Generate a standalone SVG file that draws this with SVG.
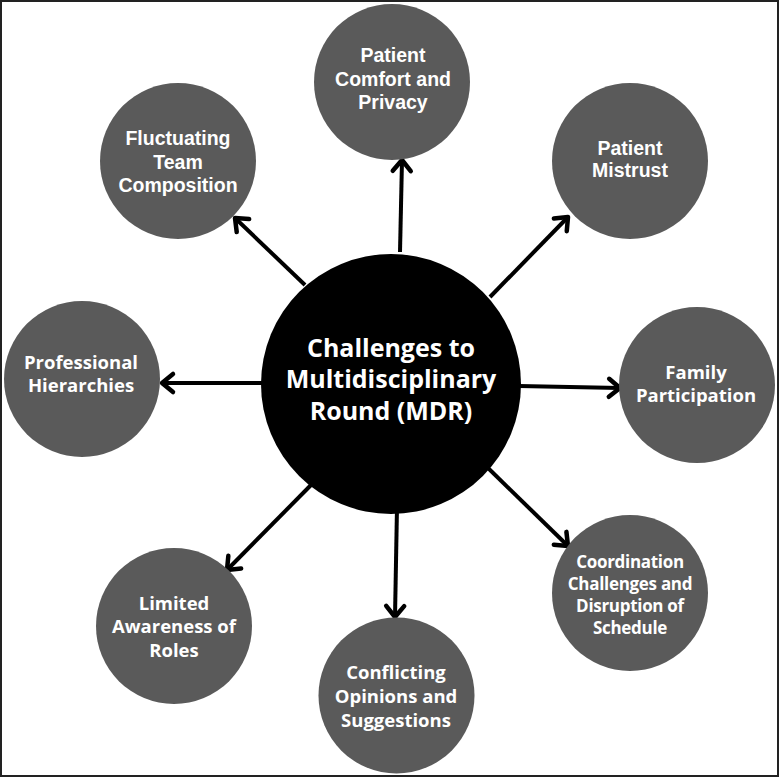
<svg xmlns="http://www.w3.org/2000/svg" width="780" height="778" viewBox="0 0 780 778">
<defs>
<marker id="arr" markerUnits="userSpaceOnUse" orient="auto" refX="0" refY="0" markerWidth="30" markerHeight="30" viewBox="-15 -15 30 30" overflow="visible">
<path d="M-11,-9 L0,0 L-11,9" fill="none" stroke="#000" stroke-width="4.5" stroke-linecap="round" stroke-linejoin="round"/>
</marker>
<style>
.n{fill:#5a5a5a}
.a{font-family:"Liberation Sans",Arial,sans-serif;font-weight:bold;font-size:19.5px;fill:#fff;text-anchor:middle}
.o{font-family:"Open Sans","Noto Sans",sans-serif;font-weight:bold;font-size:18.5px;fill:#fff;text-anchor:middle}
.s{font-family:"Open Sans","Noto Sans",sans-serif;font-weight:bold;font-size:17px;fill:#fff;text-anchor:middle;letter-spacing:-0.3px}
.c{font-family:"Open Sans","Noto Sans",sans-serif;font-weight:bold;font-size:25px;fill:#fff;text-anchor:middle}
.l{stroke:#000;stroke-width:4;fill:none;marker-end:url(#arr)}
</style>
</defs>
<rect x="0" y="0" width="780" height="778" fill="#fff"/>
<rect x="1" y="1" width="777" height="775" fill="none" stroke="#222" stroke-width="2"/>
<g id="connectors">
<line class="l" x1="400" y1="252" x2="402" y2="160"/>
<line class="l" x1="305" y1="285" x2="235" y2="218"/>
<line class="l" x1="490" y1="297" x2="568" y2="217"/>
<line class="l" x1="519" y1="386" x2="620" y2="388"/>
<line class="l" x1="487" y1="467" x2="568" y2="546"/>
<line class="l" x1="397" y1="507" x2="395" y2="617"/>
<line class="l" x1="313" y1="483" x2="227" y2="570"/>
<line class="l" x1="262" y1="383" x2="162" y2="383"/>
</g>
<g id="center">
<circle cx="391" cy="384" r="130" fill="#000"/>
<text class="c" x="391" y="357">Challenges to</text>
<text class="c" x="391" y="388">Multidisciplinary</text>
<text class="c" x="391" y="420">Round (MDR)</text>
</g>
<g id="comfort">
<circle class="n" cx="392" cy="82" r="78"/>
<text class="a" x="393" y="62">Patient</text>
<text class="a" x="393" y="85.5">Comfort and</text>
<text class="a" x="393" y="109">Privacy</text>
</g>
<g id="fluctuating">
<circle class="n" cx="178" cy="161" r="78"/>
<text class="a" x="178" y="145">Fluctuating</text>
<text class="a" x="178" y="169">Team</text>
<text class="a" x="178" y="192">Composition</text>
</g>
<g id="mistrust">
<circle class="n" cx="630" cy="161" r="78"/>
<text class="a" x="630" y="155">Patient</text>
<text class="a" x="630" y="177">Mistrust</text>
</g>
<g id="hierarchies">
<circle class="n" cx="82" cy="379" r="78"/>
<text class="o" x="81" y="369">Professional</text>
<text class="o" x="81" y="392">Hierarchies</text>
</g>
<g id="family">
<circle class="n" cx="697" cy="385" r="78"/>
<text class="o" x="696" y="379">Family</text>
<text class="o" x="696" y="402">Participation</text>
</g>
<g id="coordination">
<circle class="n" cx="630" cy="593" r="78"/>
<text class="s" x="630" y="568">Coordination</text>
<text class="s" x="630" y="590">Challenges and</text>
<text class="s" x="630" y="612">Disruption of</text>
<text class="s" x="630" y="634">Schedule</text>
</g>
<g id="limited">
<circle class="n" cx="174" cy="626" r="78"/>
<text class="o" x="174" y="610">Limited</text>
<text class="o" x="174" y="633">Awareness of</text>
<text class="o" x="174" y="657">Roles</text>
</g>
<g id="conflicting">
<circle class="n" cx="396.5" cy="695.5" r="78"/>
<text class="o" x="396" y="679">Conflicting</text>
<text class="o" x="396" y="702.5">Opinions and</text>
<text class="o" x="396" y="726.5">Suggestions</text>
</g>
</svg>
